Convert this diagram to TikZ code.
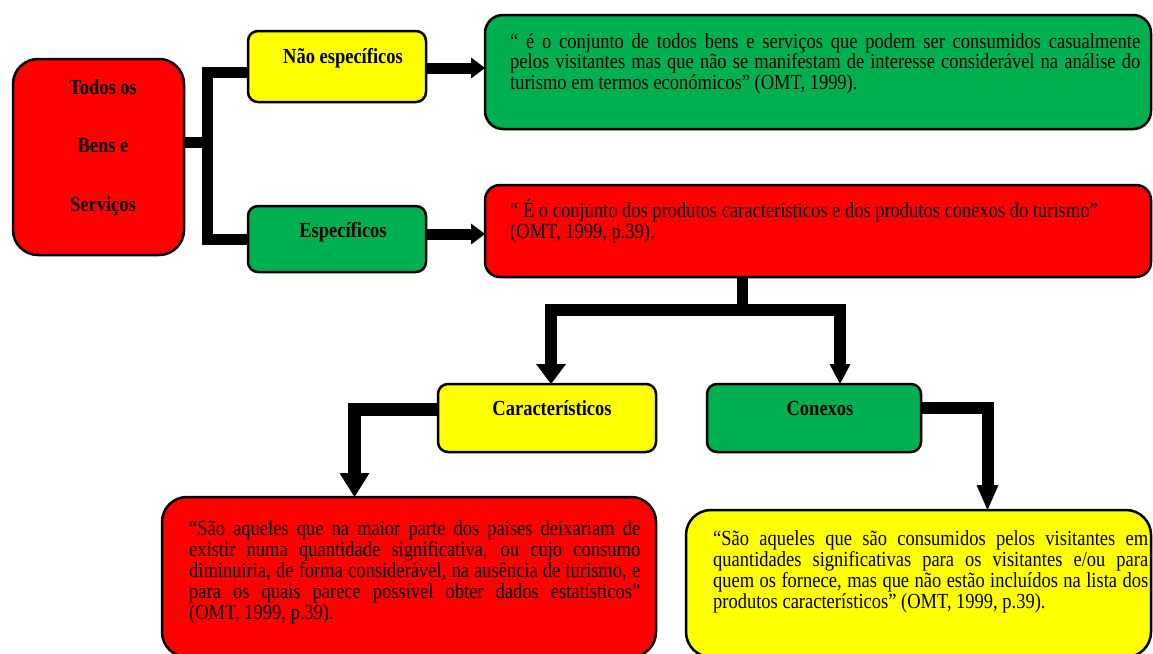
\documentclass[tikz,border=0pt]{standalone}
\usepackage{fontspec}
\newfontfamily\tnr[FakeStretch=0.86]{Liberation Serif}
\usetikzlibrary{arrows.meta,calc}
\definecolor{cred}{HTML}{FF0000}
\definecolor{cyel}{HTML}{FFFF00}
\definecolor{cgrn}{HTML}{00B050}
\newcommand{\bodyf}[1]{\tnr\fontsize{21.5}{#1}\selectfont}
\newcommand{\labf}{\tnr\bfseries\fontsize{21.5}{21}\selectfont}
\begin{document}
\begin{tikzpicture}[x=1pt,y=-1pt,
  box/.style={draw=black, line width=2.5pt, rounded corners=#1, anchor=north west,
    inner sep=0pt, outer sep=0pt},
  box/.default=10pt,
  lab/.style={font=\labf, inner sep=0pt, anchor=base},
  txt/.style={inner sep=0pt, anchor=base west},
  conn/.style={draw=black, line width=#1, line join=miter},
  conn/.default=11pt,
  arr/.style n args={3}{conn=#1, -{Triangle[width=#2,length=#3,line width=0pt]}}
]
\useasboundingbox (0,0) rectangle (1153,653);

% boxes
\node[box=25pt, fill=cred, minimum width=171pt, minimum height=196pt] (todos) at (13,59) {};
\node[box, fill=cyel, minimum width=178pt, minimum height=71pt] (nesp) at (248,31) {};
\node[box, fill=cgrn, minimum width=178pt, minimum height=66pt] (esp) at (248,206) {};
\node[box=18pt, fill=cgrn, minimum width=666pt, minimum height=114pt] (gbox) at (485,15) {};
\node[box=15pt, fill=cred, minimum width=666pt, minimum height=92pt] (rbox) at (485,185) {};
\node[box, fill=cyel, minimum width=218pt, minimum height=68pt] (cara) at (438,384) {};
\node[box, fill=cgrn, minimum width=214pt, minimum height=68pt] (conx) at (707,384) {};
\node[box=25pt, fill=cred, minimum width=494pt, minimum height=160pt] (bred) at (162,497) {};
\node[box=25pt, fill=cyel, minimum width=465pt, minimum height=147pt] (byel) at (686,510) {};

% labels
\node[lab] (todosT) at (103,94) {\parbox[t]{150pt}{\centering\fontsize{21.5}{58.5}\selectfont Todos os\\Bens e\\Serviços}};
\node[lab] (nespT) at (343,63) {Não específicos};
\node[lab] (espT) at (343,237) {Específicos};
\node[lab] (caraT) at (552,415) {Característicos};
\node[lab] (conxT) at (820,415) {Conexos};

% texts
\node[txt] (gboxT) at (510,48) {\parbox[t]{630pt}{\bodyf{20.5}%
\makebox[630pt][s]{“ é o conjunto de todos bens e serviços que podem ser consumidos casualmente}\\%
\makebox[630pt][s]{pelos visitantes mas que não se manifestam de interesse considerável na análise do}\\%
turismo em termos económicos” (OMT, 1999).}};
\node[txt] (rboxT) at (510,217) {\parbox[t]{640pt}{\bodyf{21}\raggedright
“ É o conjunto dos produtos característicos e dos produtos conexos do turismo”\\%
(OMT, 1999, p.39).}};
\node[txt] (bredT) at (189,535) {\parbox[t]{451pt}{\bodyf{21}%
\makebox[451pt][s]{“São aqueles que na maior parte dos países deixariam de}\\%
\makebox[451pt][s]{existir numa quantidade significativa, ou cujo consumo}\\%
\makebox[451pt][s]{diminuiria, de forma considerável, na ausência de turismo, e}\\%
\makebox[451pt][s]{para os quais parece possível obter dados estatísticos”}\\%
(OMT, 1999, p.39).}};
\node[txt] (byelT) at (713,545) {\parbox[t]{435pt}{\bodyf{21}%
\makebox[435pt][s]{“São aqueles que são consumidos pelos visitantes em}\\%
\makebox[435pt][s]{quantidades significativas para os visitantes e/ou para}\\%
\makebox[435pt][s]{quem os fornece, mas que não estão incluídos na lista dos}\\%
produtos característicos” (OMT, 1999, p.39).}};

% connectors
\coordinate (jL) at (207.5,142);
\draw[conn] (jL -| todos.east) -- (jL);
\draw[conn] ($(nesp.west)+(0,5.5)$) -| (jL) |- (esp.west);
\draw[arr={11pt}{21pt}{14pt}] ($(nesp.east)+(0,1.5)$) coordinate (a1) -- (a1 -| gbox.west);
\draw[arr={11pt}{21pt}{14pt}] ($(esp.east)+(0,-5)$) coordinate (a2) -- (a2 -| rbox.west);

\coordinate (s1) at ($(rbox.south west)+(257,0)$);
\coordinate (bar) at (742,309.5);
\draw[conn=11pt] (s1) -- (bar);
\draw[arr={12pt}{30pt}{20pt}] (bar) -| ($(cara.north west)+(113,0)$);
\draw[arr={12pt}{21pt}{20pt}] (bar) -| ($(conx.north west)+(133,0)$);

\draw[arr={13pt}{30pt}{24pt}] ($(cara.west)+(0,-9)$) -| ($(bred.north west)+(192.5,0)$);
\draw[arr={12pt}{22pt}{25pt}] ($(conx.east)+(0,-10)$) -| ($(byel.north west)+(301.5,0)$);
\end{tikzpicture}
\end{document}
